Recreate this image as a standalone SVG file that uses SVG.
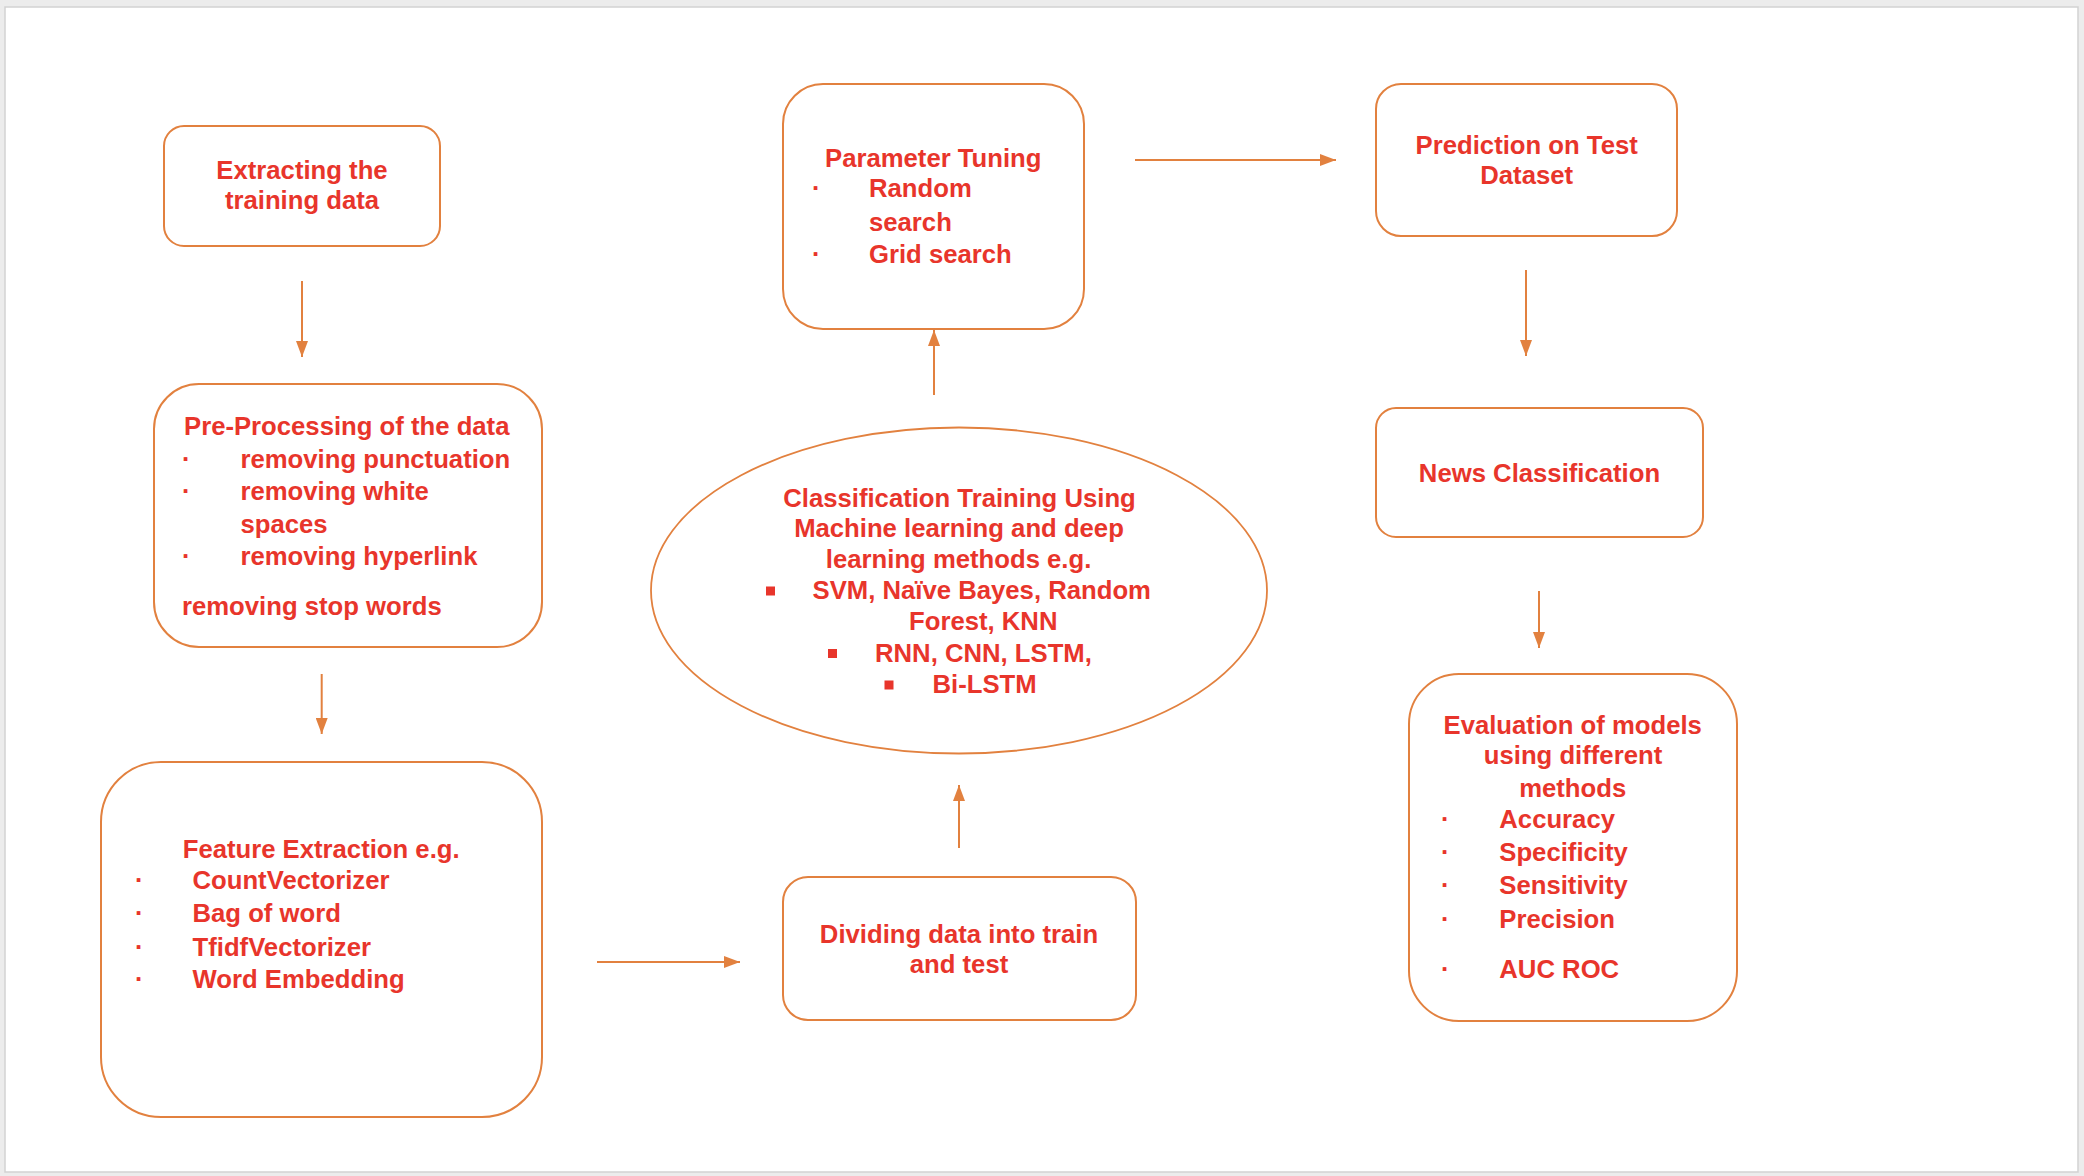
<svg xmlns="http://www.w3.org/2000/svg" width="2084" height="1176" viewBox="0 0 2084 1176">
  <defs>
    <style>
      .box { fill: #ffffff; stroke: #e2813f; stroke-width: 2; }
      .oval { fill: #ffffff; stroke: #e2813f; stroke-width: 1.8; }
      .link { fill: none; stroke: #e2813f; stroke-width: 2; }
      .t { font-family: "Liberation Sans", Arial, sans-serif; font-weight: bold; font-size: 25.7px; fill: #e8352b; }
      .c { text-anchor: middle; }
      .sq { fill: #e8352b; }
    </style>
    <marker id="head" viewBox="0 0 16 12" refX="16" refY="6" markerWidth="16" markerHeight="12" markerUnits="userSpaceOnUse" orient="auto">
      <path d="M0,0 L16,6 L0,12 Z" fill="#e2813f"/>
    </marker>
  </defs>

  <!-- page -->
  <rect x="0" y="0" width="2084" height="1176" fill="#ececec"/>
  <rect x="5" y="7" width="2073" height="1165" fill="#ffffff" stroke="#d2d2d2" stroke-width="1.5"/>

  <!-- connectors -->
  <g id="connectors">
    <line class="link" x1="302" y1="281" x2="302" y2="357" marker-end="url(#head)"/>
    <line class="link" x1="321.7" y1="674" x2="321.7" y2="734" marker-end="url(#head)"/>
    <line class="link" x1="597" y1="962" x2="740" y2="962" marker-end="url(#head)"/>
    <line class="link" x1="959" y1="848" x2="959" y2="785" marker-end="url(#head)"/>
    <line class="link" x1="934" y1="395" x2="934" y2="330" marker-end="url(#head)"/>
    <line class="link" x1="1135" y1="160" x2="1336" y2="160" marker-end="url(#head)"/>
    <line class="link" x1="1526" y1="270" x2="1526" y2="356" marker-end="url(#head)"/>
    <line class="link" x1="1539" y1="591" x2="1539" y2="648" marker-end="url(#head)"/>
  </g>

  <!-- Extracting the training data -->
  <g id="extract">
    <rect class="box" x="164" y="126" width="276" height="120" rx="20" ry="20"/>
    <text class="t c" x="302" y="179">Extracting the</text>
    <text class="t c" x="302" y="209">training data</text>
  </g>

  <!-- Pre-processing -->
  <g id="preprocess">
    <rect class="box" x="154" y="384" width="388" height="263" rx="45" ry="45"/>
    <text class="t" x="184" y="435">Pre-Processing of the data</text>
    <text class="t" x="182" y="467.5">·</text>
    <text class="t" x="240.5" y="467.5">removing punctuation</text>
    <text class="t" x="182" y="500">·</text>
    <text class="t" x="240.5" y="500">removing white</text>
    <text class="t" x="240.5" y="532.5">spaces</text>
    <text class="t" x="182" y="565">·</text>
    <text class="t" x="240.5" y="565">removing hyperlink</text>
    <text class="t" x="182" y="615">removing stop words</text>
  </g>

  <!-- Feature extraction -->
  <g id="features">
    <rect class="box" x="101" y="762" width="441" height="355" rx="60" ry="60"/>
    <text class="t" x="182.7" y="858">Feature Extraction e.g.</text>
    <text class="t" x="135" y="889">·</text>
    <text class="t" x="192.5" y="889">CountVectorizer</text>
    <text class="t" x="135" y="922">·</text>
    <text class="t" x="192.5" y="922">Bag of word</text>
    <text class="t" x="135" y="955.5">·</text>
    <text class="t" x="192.5" y="955.5">TfidfVectorizer</text>
    <text class="t" x="135" y="988">·</text>
    <text class="t" x="192.5" y="988">Word Embedding</text>
  </g>

  <!-- Dividing data -->
  <g id="split">
    <rect class="box" x="783" y="877" width="353" height="143" rx="25" ry="25"/>
    <text class="t c" x="959" y="943">Dividing data into train</text>
    <text class="t c" x="959" y="973">and test</text>
  </g>

  <!-- Classification training -->
  <g id="training">
    <ellipse class="oval" cx="959" cy="590.5" rx="308" ry="163"/>
    <text class="t c" x="959.5" y="507">Classification Training Using</text>
    <text class="t c" x="959" y="537">Machine learning and deep</text>
    <text class="t c" x="958.6" y="568">learning methods e.g.</text>
    <rect class="sq" x="766" y="586.5" width="9" height="9"/>
    <text class="t" x="812.6" y="599">SVM, Naïve Bayes, Random</text>
    <text class="t" x="909" y="630">Forest, KNN</text>
    <rect class="sq" x="828" y="649" width="9" height="9"/>
    <text class="t" x="875" y="662">RNN, CNN, LSTM,</text>
    <rect class="sq" x="884.5" y="680.5" width="9" height="9"/>
    <text class="t" x="932.5" y="693">Bi-LSTM</text>
  </g>

  <!-- Parameter tuning -->
  <g id="tuning">
    <rect class="box" x="783" y="84" width="301" height="245" rx="40" ry="40"/>
    <text class="t" x="825" y="167">Parameter Tuning</text>
    <text class="t" x="812" y="197">·</text>
    <text class="t" x="869" y="197">Random</text>
    <text class="t" x="869" y="231">search</text>
    <text class="t" x="812" y="263">·</text>
    <text class="t" x="869" y="263">Grid search</text>
  </g>

  <!-- Prediction -->
  <g id="prediction">
    <rect class="box" x="1376" y="84" width="301" height="152" rx="25" ry="25"/>
    <text class="t c" x="1526.7" y="154">Prediction on Test</text>
    <text class="t c" x="1526.7" y="184">Dataset</text>
  </g>

  <!-- News classification -->
  <g id="news">
    <rect class="box" x="1376" y="408" width="327" height="129" rx="20" ry="20"/>
    <text class="t c" x="1539.5" y="481.7">News Classification</text>
  </g>

  <!-- Evaluation -->
  <g id="evaluation">
    <rect class="box" x="1409" y="674" width="328" height="347" rx="50" ry="50"/>
    <text class="t c" x="1572.7" y="734.3">Evaluation of models</text>
    <text class="t c" x="1573" y="764.3">using different</text>
    <text class="t c" x="1572.7" y="796.7">methods</text>
    <text class="t" x="1441" y="827.7">·</text>
    <text class="t" x="1499.3" y="827.7">Accuracy</text>
    <text class="t" x="1441" y="861">·</text>
    <text class="t" x="1499.3" y="861">Specificity</text>
    <text class="t" x="1441" y="894.3">·</text>
    <text class="t" x="1499.3" y="894.3">Sensitivity</text>
    <text class="t" x="1441" y="927.7">·</text>
    <text class="t" x="1499.3" y="927.7">Precision</text>
    <text class="t" x="1441" y="977.7">·</text>
    <text class="t" x="1499.3" y="977.7">AUC ROC</text>
  </g>
</svg>
